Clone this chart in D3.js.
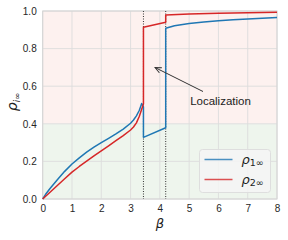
<!DOCTYPE html>
<html><head><meta charset="utf-8">
<script src="https://cdn.jsdelivr.net/npm/d3@7"></script>
<style>body{margin:0;background:#fff}svg{display:block}</style>
</head><body>
<svg id="c" width="288" height="240"></svg>
<script>
const xTicks = [0,1,2,3,4,5,6,7,8];
const yTicks = [0.0,0.2,0.4,0.6,0.8,1.0];
const beta1 = [0,0.1,0.25,0.5,0.75,1,1.25,1.5,1.75,2,2.25,2.5,2.75,3,3.1,3.2,3.3,3.38,3.44,3.44,4.2,4.2,4.5,5,5.5,6,6.5,7,7.5,8];
const rho1  = [0,0.025,0.056,0.102,0.147,0.186,0.219,0.249,0.276,0.300,0.323,0.346,0.372,0.403,0.420,0.442,0.472,0.508,0.49,0.328,0.379,0.908,0.922,0.933,0.941,0.948,0.953,0.958,0.962,0.966];
const beta2 = [0,0.25,0.5,0.75,1,1.25,1.5,1.75,2,2.25,2.5,2.75,3,3.1,3.2,3.3,3.44,3.44,4.2,4.2,5,6,7,8];
const rho2  = [0,0.036,0.072,0.108,0.143,0.173,0.201,0.229,0.256,0.283,0.310,0.337,0.367,0.383,0.405,0.440,0.505,0.913,0.940,0.979,0.984,0.988,0.991,0.993];
const transitions = [3.44, 4.2];
const regions = [{y0:0.4,y1:1.0,color:"#fdf1ef"},{y0:0,y1:0.4,color:"#eef5ed"}];
const seriesNames = ["1∞","2∞"];
const colors = ["#1f77b4","#d62728"];

const svg = d3.select("#c");
const L=42.7,R=277,T=11,B=199;
const x = d3.scaleLinear().domain([0,8]).range([L,R]);
const y = d3.scaleLinear().domain([0,1]).range([B,T]);
const font = "'Liberation Sans', Arial, sans-serif";

regions.forEach(r=>{
  svg.append("rect").attr("x",L).attr("width",R-L)
    .attr("y",y(r.y1)).attr("height",y(r.y0)-y(r.y1)).attr("fill",r.color);
});
svg.append("g").selectAll("line").data(xTicks).join("line")
  .attr("x1",d=>x(d)).attr("x2",d=>x(d)).attr("y1",T).attr("y2",B)
  .attr("stroke","#dcdcdc").attr("stroke-width",0.9);
svg.append("g").selectAll("line").data(yTicks).join("line")
  .attr("y1",d=>y(d)).attr("y2",d=>y(d)).attr("x1",L).attr("x2",R)
  .attr("stroke","#dcdcdc").attr("stroke-width",0.9);
svg.append("rect").attr("x",L).attr("y",T).attr("width",R-L).attr("height",B-T)
  .attr("fill","none").attr("stroke","#d4d4d4").attr("stroke-width",1);

const xa = svg.append("g").attr("transform",`translate(0,${B})`)
  .call(d3.axisBottom(x).tickValues(xTicks).tickSize(0).tickPadding(6).tickFormat(d3.format("d")));
const ya = svg.append("g").attr("transform",`translate(${L},0)`)
  .call(d3.axisLeft(y).tickValues(yTicks).tickSize(0).tickPadding(6).tickFormat(d3.format(".1f")));
[xa,ya].forEach(a=>{a.select(".domain").remove();
  a.selectAll("text").attr("font-family",font).attr("font-size",10).attr("fill","#262626");});

svg.append("g").selectAll("line").data(transitions).join("line")
  .attr("x1",d=>x(d)).attr("x2",d=>x(d)).attr("y1",T).attr("y2",B)
  .attr("stroke","#333").attr("stroke-width",1).attr("stroke-dasharray","1,1.5");

const line = d3.line().x(d=>x(d[0])).y(d=>y(d[1]));
const s1 = beta1.map((b,i)=>[b,rho1[i]]);
const s2 = beta2.map((b,i)=>[b,rho2[i]]);
[s1,s2].forEach((s,i)=>{
  svg.append("path").datum(s).attr("d",line).attr("fill","none")
    .attr("stroke",colors[i]).attr("stroke-width",1.5).attr("stroke-linejoin","round");
});

svg.append("defs").append("marker").attr("id","ah").attr("viewBox","0 0 10 10")
  .attr("refX",9).attr("refY",5).attr("markerWidth",7).attr("markerHeight",7).attr("orient","auto")
  .append("path").attr("d","M0,1 L9,5 L0,9").attr("fill","none").attr("stroke","#333").attr("stroke-width",1.3);
svg.append("line").attr("x1",203).attr("y1",91.5).attr("x2",155).attr("y2",67.5)
  .attr("stroke","#333").attr("stroke-width",1).attr("marker-end","url(#ah)");
svg.append("text").attr("x",220.5).attr("y",104.5).attr("text-anchor","middle")
  .attr("font-family",font).attr("font-size",11.5).attr("fill","#222").text("Localization");

const lg = svg.append("g");
lg.append("rect").attr("x",199.5).attr("y",149.5).attr("width",71).attr("height",43).attr("rx",3)
  .attr("fill","#f4f4f4").attr("fill-opacity",0.85).attr("stroke","#dedede");
seriesNames.forEach((n,i)=>{
  const yy = 159.5 + i*20;
  lg.append("line").attr("x1",204.5).attr("x2",232.5).attr("y1",yy).attr("y2",yy)
    .attr("stroke",colors[i]).attr("stroke-width",1.5).attr("stroke-opacity",0.8);
  const t = lg.append("text").attr("x",241.5).attr("y",yy+4).attr("font-family","'DejaVu Sans', sans-serif").attr("fill","#222");
  t.append("tspan").attr("font-size",13).attr("font-style","italic").text("ρ");
  t.append("tspan").attr("font-size",9.5).attr("dy",2.5).text(n);
});

svg.append("text").attr("x",(L+R)/2).attr("y",228).attr("text-anchor","middle")
  .attr("font-family","'DejaVu Sans', sans-serif").attr("font-size",13).attr("font-style","italic").attr("fill","#222").text("β");
const yl = svg.append("text").attr("transform","translate(17,102) rotate(-90)").attr("text-anchor","middle")
  .attr("font-family","'DejaVu Sans', sans-serif").attr("fill","#222");
yl.append("tspan").attr("font-size",14).attr("font-style","italic").text("ρ");
yl.append("tspan").attr("font-size",8.5).attr("font-style","italic").attr("dy",2.5).text("i");
yl.append("tspan").attr("font-size",8.5).text("∞");
</script>
</body></html>
